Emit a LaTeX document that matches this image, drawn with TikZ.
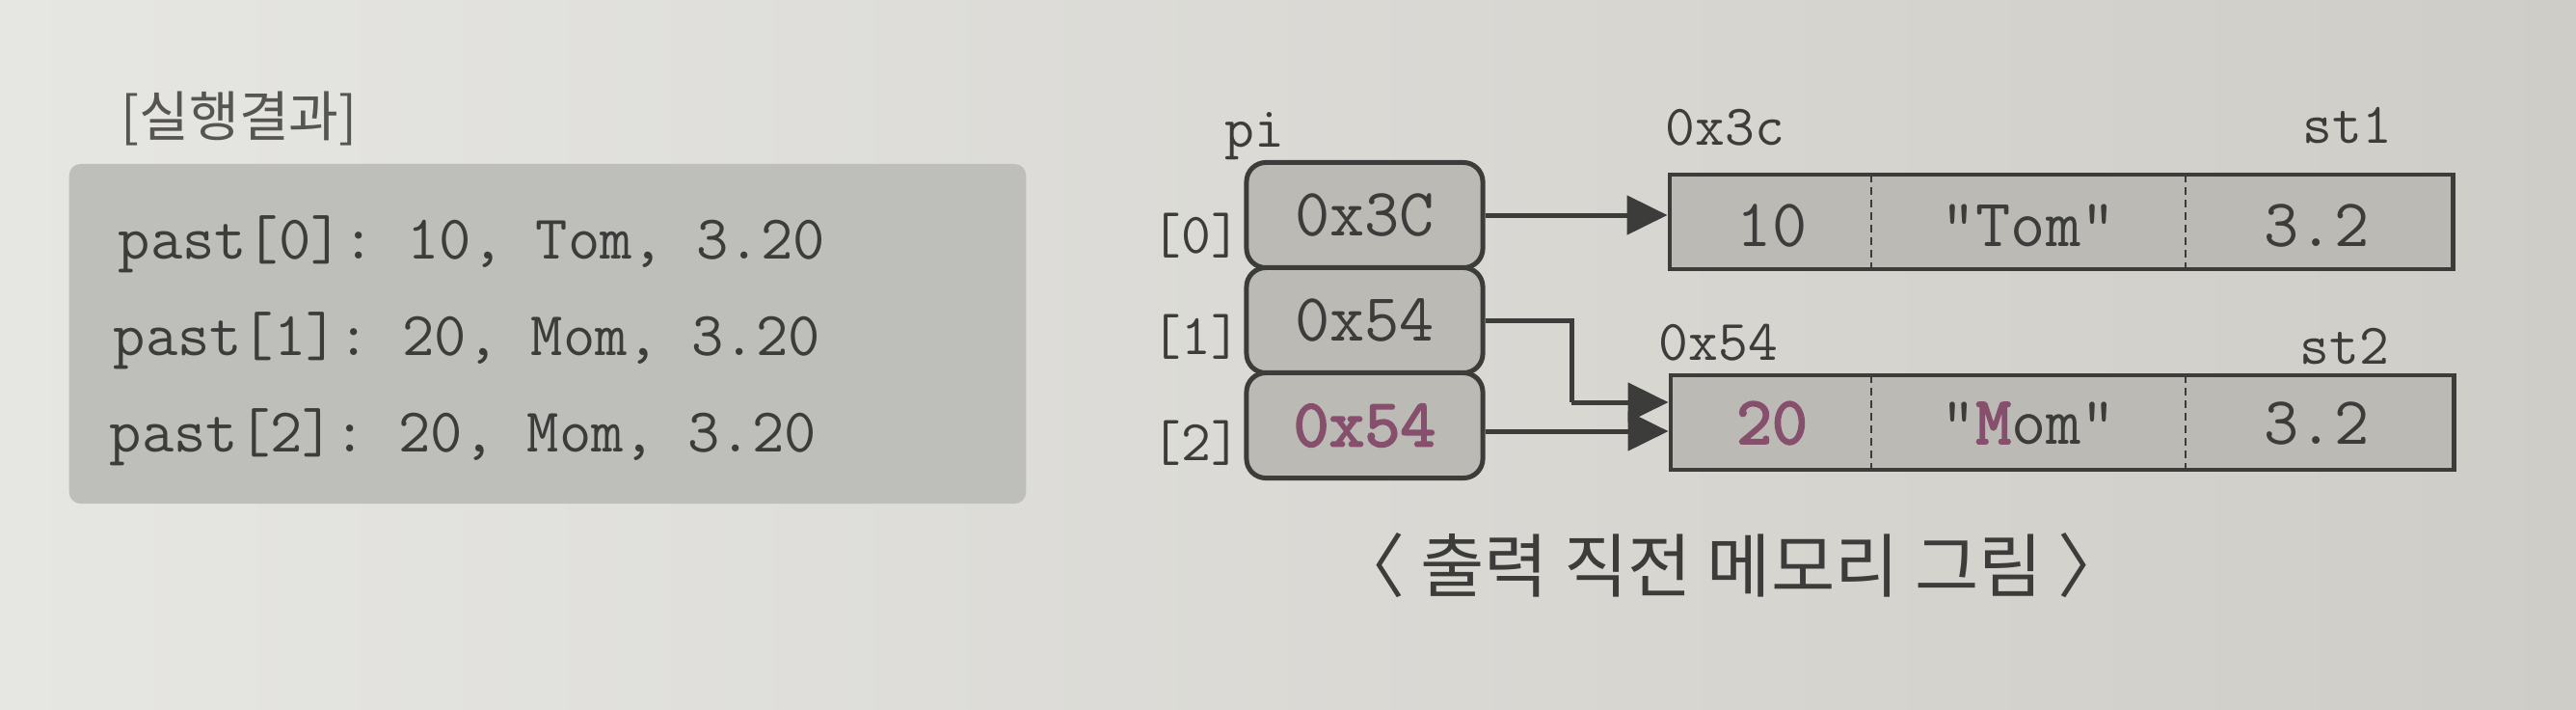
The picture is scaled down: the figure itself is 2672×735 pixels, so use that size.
\documentclass[tikz,border=0pt]{standalone}
\usepackage{fontspec}
\newfontfamily\kr{Noto Sans CJK KR}
\newfontfamily\ttbold{lmmono10-regular.otf}[FakeBold=2.5]
\usetikzlibrary{arrows.meta,calc}
\definecolor{bgA}{HTML}{E6E6E3}
\definecolor{bgB}{HTML}{CFCDC7}
\definecolor{outfill}{HTML}{BEBEBB}
\definecolor{cellfill}{HTML}{BBBAB5}
\definecolor{ink}{HTML}{3C3C3A}
\definecolor{soft}{HTML}{555553}
\definecolor{pur}{HTML}{86506C}
\frenchspacing
\begin{document}
\begin{tikzpicture}[x=0.01cm,y=-0.01cm,
  outbox/.style={fill=outfill, rounded corners=0.12cm, minimum width=9.92cm, minimum height=3.52cm, inner sep=0},
  outtext/.style={anchor=base west, inner sep=0, text=ink, font=\ttfamily\fontsize{18.4}{20}\selectfont},
  ptrbox/.style={draw=ink, line width=0.05cm, fill=cellfill, rounded corners=0.2cm, minimum width=2.45cm, minimum height=1.09cm, inner sep=0, text=ink, font=\ttfamily\fontsize{20}{22}\selectfont},
  stbox/.style={draw=ink, line width=0.045cm, fill=cellfill, minimum width=8.12cm, minimum height=0.98cm, inner sep=0},
  celltext/.style={anchor=base, inner sep=0, text=ink, font=\ttfamily\fontsize{20}{22}\selectfont},
  lbl/.style={inner sep=0, text=ink, font=\ttfamily\fontsize{17}{19}\selectfont},
  divider/.style={draw=ink, line width=0.025cm, dash pattern=on 0.08cm off 0.05cm},
  conn/.style={draw=ink, line width=0.05cm, -{Triangle[length=0.42cm,width=0.4cm]}}
]
% background
\shade[left color=bgA, right color=bgB] (0,0) rectangle (2672,735);

% result section
\node[inner sep=0, text=soft, font=\kr\fontsize{16}{18}\selectfont] (title) at (248,123) {[실행결과]};
\node[outbox] (out) at (568,346) {};
\node[outtext] (l0) at (122,268) {past[0]: 10, Tom, 3.20};
\node[outtext] (l1) at (117,368) {past[1]: 20, Mom, 3.20};
\node[outtext] (l2) at (113,468) {past[2]: 20, Mom, 3.20};

% pointer array
\node[lbl, anchor=base west] (pi) at (1270,152) {pi};
\node[ptrbox] (p0) at (1415.5,223) {0x3C};
\node[ptrbox] (p1) at (1415.5,332) {0x54};
\node[ptrbox] (p2) at (1415.5,441) {\ttbold\textcolor{pur}{0x54}};
\node[lbl, anchor=base east] (i0) at (1288,262) {[0]};
\node[lbl, anchor=base east] (i1) at (1288,367) {[1]};
\node[lbl, anchor=base east] (i2) at (1288,477) {[2]};

% structures
\node[lbl, anchor=base west] (a1) at (1727,150) {0x3c};
\node[lbl, anchor=base east] (n1) at (2482,148) {st1};
\node[stbox] (s1) at (2138,230) {};
\draw[divider] (1941,181) -- (1941,279);
\draw[divider] (2267,181) -- (2267,279);
\node[celltext] (s1a) at (1838,255) {10};
\node[celltext] (s1b) at (2104,255) {"Tom"};
\node[celltext] (s1c) at (2403,255) {3.2};

\node[lbl, anchor=base west] (a2) at (1720,373) {0x54};
\node[lbl, anchor=base east] (n2) at (2479,377) {st2};
\node[stbox] (s2) at (2139,438) {};
\draw[divider] (1941,389) -- (1941,487);
\draw[divider] (2267,389) -- (2267,487);
\node[celltext] (s2a) at (1838,460) {\ttbold\textcolor{pur}{20}};
\node[celltext] (s2b) at (2104,460) {"\textcolor{pur}{\ttbold M}om"};
\node[celltext] (s2c) at (2403,460) {3.2};

% connectors
\coordinate (bend) at (1630,417);
\draw[conn] (p0.east) -- (p0.east -| s1.west);
\draw[conn, -] (p1.east) -| (bend);
\draw[conn] (bend) -- (bend -| s2.west);
\draw[conn] ($(p2.east)+(0,6)$) -- ($(p2.east -| s2.west)+(0,6)$);

% caption
\node[inner sep=0, text=ink, font=\kr\fontsize{20.5}{22}\selectfont] (cap) at (1796,586) {〈 출력 직전 메모리 그림 〉};
\end{tikzpicture}
\end{document}
